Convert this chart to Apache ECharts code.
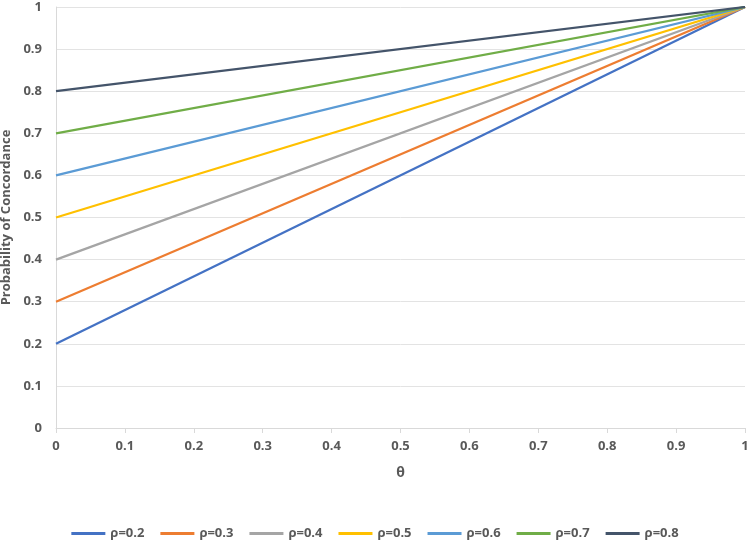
<!DOCTYPE html>
<html><head><meta charset="utf-8">
<script src="https://cdn.jsdelivr.net/npm/echarts@6/dist/echarts.min.js"></script>
<style>html,body{margin:0;padding:0;background:#fff}#c{width:750px;height:547px}</style>
</head><body><div id="c"></div>
<script>
const theta = [0, 1];
const seriesNames = ['ρ=0.2','ρ=0.3','ρ=0.4','ρ=0.5','ρ=0.6','ρ=0.7','ρ=0.8'];
const r02 = [0.2, 1];
const r03 = [0.3, 1];
const r04 = [0.4, 1];
const r05 = [0.5, 1];
const r06 = [0.6, 1];
const r07 = [0.7, 1];
const r08 = [0.8, 1];
const values = [r02, r03, r04, r05, r06, r07, r08];
const colors = ['#4472C4','#ED7D31','#A5A5A5','#FFC000','#5B9BD5','#70AD47','#44546A'];

const font = 'Open Sans, Liberation Sans, sans-serif';
const chart = echarts.init(document.getElementById('c'));
chart.setOption({
  animation: false,
  color: colors,
  grid: {left: 56, right: 5, top: 7, bottom: 119, containLabel: false, outerBoundsMode: 'none'},
  legend: {
    bottom: 2, left: 'center', itemWidth: 34, itemHeight: 3, itemGap: 16,
    icon: 'rect',
    textStyle: {fontFamily: font, fontSize: 13, fontWeight: 'bold', color: '#595959'},
    data: seriesNames
  },
  xAxis: {
    type: 'value', min: 0, max: 1, interval: 0.1,
    name: 'θ', nameLocation: 'middle', nameGap: 38,
    nameTextStyle: {fontFamily: font, fontSize: 14, fontWeight: 'bold', color: '#595959'},
    axisLine: {lineStyle: {color: '#D9D9D9', width: 1}},
    axisTick: {show: true, length: 5, lineStyle: {color: '#D9D9D9'}},
    splitLine: {show: false},
    axisLabel: {fontFamily: font, fontSize: 13, fontWeight: 'bold', color: '#595959', margin: 12,
      formatter: v => String(Math.round(v*10)/10)}
  },
  yAxis: {
    type: 'value', min: 0, max: 1, interval: 0.1,
    name: 'Probability of Concordance', nameLocation: 'middle', nameGap: 38,
    nameTextStyle: {fontFamily: font, fontSize: 13, fontWeight: 'bold', color: '#595959'},
    axisLine: {show: true, lineStyle: {color: '#D9D9D9'}},
    axisTick: {show: false},
    splitLine: {lineStyle: {color: '#E3E3E3', width: 1}},
    axisLabel: {fontFamily: font, fontSize: 13, fontWeight: 'bold', color: '#595959', margin: 14,
      formatter: v => String(Math.round(v*10)/10)}
  },
  series: seriesNames.map((n, i) => ({
    name: n, type: 'line', showSymbol: false, symbol: 'none',
    lineStyle: {width: 2.25, color: colors[i]},
    data: theta.map((t, j) => [t, values[i][j]])
  }))
});
</script></body></html>
